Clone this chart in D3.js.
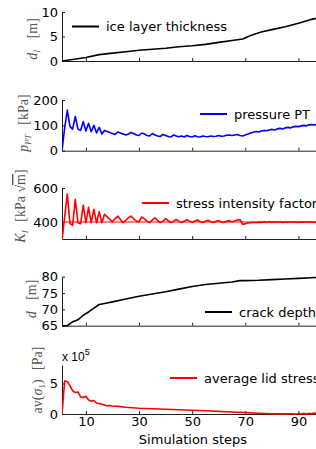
<!DOCTYPE html>
<html>
<head>
<meta charset="utf-8">
<script src="https://cdn.jsdelivr.net/npm/d3@7"></script>
<style>
  body { margin: 0; background: #fff; }
  svg { display: block; font-family: "DejaVu Sans", sans-serif; }
  .tick text { font-size: 13px; font-family: "DejaVu Sans", sans-serif; fill: #000; }
  .axis path, .axis line { stroke: #222; }
  .legend { font-size: 13px; }
  .ylab { font-family: "Liberation Serif", "DejaVu Serif", serif; font-size: 14px; fill: #555; }
</style>
</head>
<body>
<svg id="fig" width="316" height="449"></svg>
<script>
// ice layer thickness d_I [m]
const iceSteps = [1, 5, 10, 15, 20, 25, 30, 35, 40, 45, 50, 55, 60, 65, 69, 72, 76, 80, 85, 90, 95, 100];
const iceValues = [0, 0.3, 0.7, 1.3, 1.6, 1.9, 2.2, 2.4, 2.6, 2.9, 3.1, 3.4, 3.8, 4.2, 4.5, 5.2, 5.9, 6.4, 7.0, 7.7, 8.5, 9.1];

// pressure PT [kPa], one value per simulation step 1..100
const pressureValues = [
  0, 90, 160, 95, 85, 135, 85, 80, 115, 78,
  108, 75, 100, 70, 92, 66, 80, 76, 72, 68,
  64, 74, 70, 66, 62, 66, 72, 68, 62, 60,
  70, 66, 60, 58, 68, 62, 58, 56, 64, 60,
  56, 54, 62, 58, 55, 58, 54, 60, 56, 54,
  59, 55, 54, 58, 56, 55, 58, 56, 57, 60,
  57, 58, 61, 62, 60, 62, 64, 60, 58, 62,
  66, 70, 73, 76, 74, 78, 80, 79, 82, 84,
  82, 86, 88, 86, 90, 92, 90, 94, 96, 95,
  98, 100, 98, 102, 103, 101, 104, 105, 104, 106
];

// stress intensity factor K_I [kPa sqrt(m)], one value per step 1..100
const stressIntValues = [
  290, 430, 565, 392, 380, 534, 396, 390, 500, 396,
  486, 396, 475, 396, 461, 396, 445, 430, 415, 402,
  420, 435, 415, 396, 410, 425, 435, 418, 405, 402,
  430, 418, 405, 396, 412, 425, 410, 396, 405, 420,
  408, 396, 405, 416, 405, 397, 404, 414, 404, 398,
  406, 412, 402, 398, 404, 410, 402, 398, 404, 408,
  400, 398, 404, 408, 402, 406, 412, 414, 386, 390,
  394, 396, 398, 397, 399, 398, 400, 399, 401, 398,
  400, 399, 401, 398, 400, 399, 401, 399, 400, 398,
  400, 399, 401, 399, 400, 398, 401, 399, 400, 400
];
const toughness = 400;

// crack depth d [m]
const crackSteps = [1, 3, 5, 7, 9, 11, 13, 15, 17, 20, 25, 30, 35, 40, 45, 50, 55, 60, 65, 68, 70, 75, 80, 85, 90, 95, 100];
const crackValues = [65, 65, 66.2, 66.8, 68.2, 69.2, 70.4, 71.5, 71.8, 72.3, 73.2, 74.0, 74.7, 75.4, 76.2, 77.0, 77.6, 78.0, 78.4, 78.8, 78.8, 78.9, 79.1, 79.3, 79.5, 79.7, 79.9];

// average lid stress av(sigma_1) [x 10^5 Pa]
const lidSteps = [1, 2, 3, 4, 5, 6, 7, 8, 9, 10, 11, 12, 13, 14, 15, 16, 17, 18, 19, 20, 22, 25, 30, 35, 40, 45, 50, 55, 60, 65, 70, 75, 80, 85, 88, 89, 90, 91, 92, 93, 94, 95, 96, 97, 100];
const lidValues = [0, 5.4, 5.3, 4.6, 3.8, 3.5, 3.6, 2.8, 2.7, 2.9, 2.3, 2.1, 2.2, 1.8, 1.7, 1.6, 1.45, 1.35, 1.4, 1.3, 1.25, 1.1, 0.95, 0.85, 0.78, 0.7, 0.62, 0.52, 0.43, 0.33, 0.22, 0.12, 0.05, 0.02, 0.05, -0.05, 0.08, 0.0, 0.1, -0.02, 0.12, 0.05, 0.15, 0.08, 0.15];

const xTicks = [10, 30, 50, 70, 90];

const svg = d3.select('#fig');
const x = d3.scaleLinear().domain([1, 100]).range([62, 325]);

const panels = [
  { xs: iceSteps, ys: iceValues, dom: [0, 10], rng: [61, 12], ticks: [0, 5, 10], color: '#000',
    legend: 'ice layer thickness', lx: 72, ly: 26.5 },
  { xs: pressureValues.map((v, i) => i + 1), ys: pressureValues, dom: [0, 200], rng: [150.7, 100], ticks: [0, 100, 200], color: '#0000ff',
    legend: 'pressure PT', lx: 200, ly: 114 },
  { xs: stressIntValues.map((v, i) => i + 1), ys: stressIntValues, dom: [300, 600], rng: [239, 188], ticks: [400, 600], color: '#ff0000',
    legend: 'stress intensity factor', lx: 142, ly: 203 },
  { xs: crackSteps, ys: crackValues, dom: [65, 80], rng: [325.7, 276.7], ticks: [65, 70, 75, 80], color: '#000',
    legend: 'crack depth', lx: 205, ly: 312 },
  { xs: lidSteps, ys: lidValues, dom: [0, 8], rng: [414, 365], ticks: [0, 5], color: '#ff0000',
    legend: 'average lid stress', lx: 170, ly: 378 }
];

panels.forEach((p, k) => {
  const y = d3.scaleLinear().domain(p.dom).range(p.rng);
  const g = svg.append('g');

  g.append('clipPath').attr('id', 'clip' + k)
    .append('rect')
    .attr('x', x.range()[0]).attr('y', p.rng[1] - 2)
    .attr('width', x.range()[1] - x.range()[0]).attr('height', p.rng[0] - p.rng[1] + 3);

  g.append('g')
    .attr('class', 'axis')
    .attr('transform', `translate(0, ${p.rng[0]})`)
    .call(d3.axisBottom(x).tickValues(xTicks).tickSize(-3).tickSizeOuter(0).tickPadding(3)
      .tickFormat(k === panels.length - 1 ? d3.format('d') : ''));

  g.append('g')
    .attr('class', 'axis')
    .attr('transform', `translate(${x.range()[0]}, 0)`)
    .call(d3.axisLeft(y).tickValues(p.ticks).tickSize(-3).tickSizeOuter(0).tickPadding(4));

  const line = d3.line().x(d => x(d[0])).y(d => y(d[1]));

  if (k === 2) {
    g.append('line')
      .attr('clip-path', `url(#clip${k})`)
      .attr('x1', x(1)).attr('x2', x(100))
      .attr('y1', y(toughness)).attr('y2', y(toughness))
      .attr('stroke', p.color).attr('stroke-width', 1);
  }

  g.append('path')
    .datum(p.xs.map((s, i) => [s, p.ys[i]]))
    .attr('clip-path', `url(#clip${k})`)
    .attr('fill', 'none')
    .attr('stroke', p.color)
    .attr('stroke-width', 1.6)
    .attr('stroke-linejoin', 'round')
    .attr('d', line);

  g.append('line')
    .attr('x1', p.lx).attr('x2', p.lx + 27)
    .attr('y1', p.ly).attr('y2', p.ly)
    .attr('stroke', p.color).attr('stroke-width', 2);

  g.append('text')
    .attr('class', 'legend')
    .attr('x', p.lx + 34)
    .attr('y', p.ly + 4.5)
    .text(p.legend);
});

// y labels (rotated, serif), math part then unit
const ylab = (cx, cy) => svg.append('text')
  .attr('class', 'ylab')
  .attr('text-anchor', 'middle')
  .attr('transform', `translate(${cx}, ${cy}) rotate(-90)`);

let t = ylab(37, 39);
t.append('tspan').attr('font-style', 'italic').text('d');
t.append('tspan').attr('font-style', 'italic').attr('font-size', 9).attr('dy', 3).text('I');
t.append('tspan').attr('dy', -3).attr('dx', 8).text(' [m]');

t = ylab(28, 123);
t.append('tspan').attr('font-style', 'italic').text('p');
t.append('tspan').attr('font-style', 'italic').attr('font-size', 9).attr('dy', 3).text('PT');
t.append('tspan').attr('dy', -3).attr('dx', 6).text(' [kPa]');

t = ylab(25, 206);
t.append('tspan').attr('font-style', 'italic').text('K');
t.append('tspan').attr('font-style', 'italic').attr('font-size', 9).attr('dy', 3).text('I');
t.append('tspan').attr('dy', -3).attr('dx', 5).text(' [kPa  √');
t.append('tspan').attr('text-decoration', 'overline').text('m');
t.append('tspan').text(']');

t = ylab(36, 299);
t.append('tspan').attr('font-style', 'italic').text('d');
t.append('tspan').attr('dx', 8).text(' [m]');

t = ylab(42, 380);
t.append('tspan').text('av(');
t.append('tspan').attr('font-style', 'italic').text('σ');
t.append('tspan').attr('font-size', 9).attr('dy', 3).text('1');
t.append('tspan').attr('dy', -3).text(')');
t.append('tspan').attr('dx', 6).text(' [Pa]');

// exponent label
const ex = svg.append('text').attr('x', 62).attr('y', 361)
  .attr('font-family', '"Liberation Sans", Arial, sans-serif').attr('font-size', 12);
ex.append('tspan').text('x 10');
ex.append('tspan').attr('font-size', 9).attr('dy', -6).text('5');

// x label
svg.append('text')
  .attr('x', 193).attr('y', 444)
  .attr('text-anchor', 'middle')
  .attr('font-size', 13)
  .text('Simulation steps');
</script>
</body>
</html>
